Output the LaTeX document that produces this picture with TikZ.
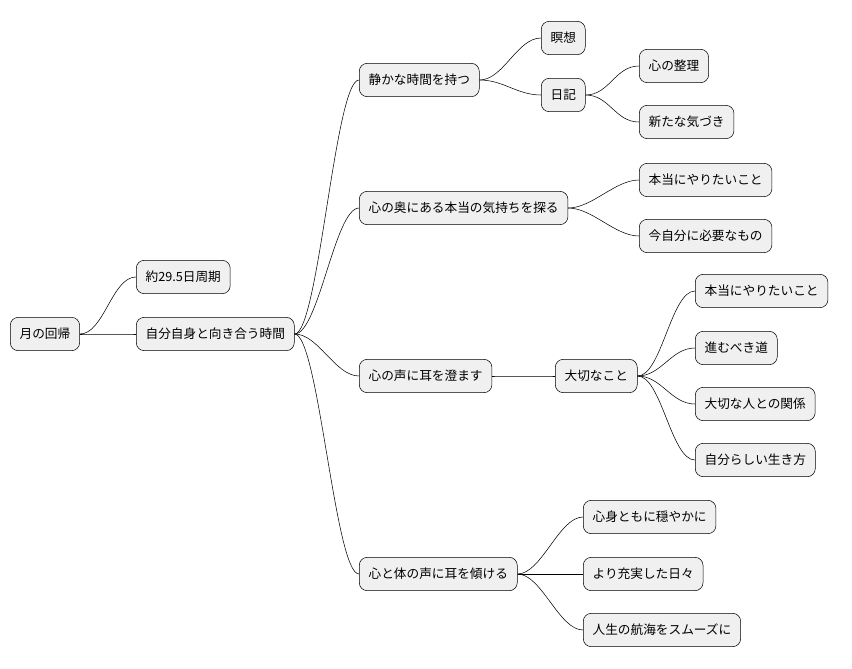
\documentclass[tikz,border=0pt]{standalone}
\usepackage{fontspec}
\setmainfont{Noto Sans CJK JP}
\usetikzlibrary{arrows.meta}

\begin{document}
\begin{tikzpicture}[x=0.75pt, y=-0.75pt, thin,
    box/.style={draw, rounded corners=6pt, fill=black!6, anchor=west,
        minimum height=25pt, inner xsep=7pt, font=\fontsize{9.5}{11}\selectfont},
    curve/.style={to path={(\tikztostart) .. controls +(24,0) and +(-24,0) .. (\tikztotarget)}}]

    \useasboundingbox (0,0) rectangle (852,668);

    % Nodes
    \node (Root) [box] at (10,334) {月の回帰};
    \node (Cycle) [box] at (136,277) {約29.5日周期};
    \node (Self) [box] at (136,334) {自分自身と向き合う時間};

    \node (Quiet) [box] at (359,80) {静かな時間を持つ};
    \node (Medit) [box] at (541,38) {瞑想};
    \node (Diary) [box] at (541,95) {日記};
    \node (Order) [box] at (639,66) {心の整理};
    \node (Notice) [box] at (639,122) {新たな気づき};

    \node (Deep) [box] at (359,208) {心の奥にある本当の気持ちを探る};
    \node (Want) [box] at (639,180) {本当にやりたいこと};
    \node (Need) [box] at (639,236) {今自分に必要なもの};

    \node (Listen) [box] at (359,376) {心の声に耳を澄ます};
    \node (Matter) [box] at (555,376) {大切なこと};
    \node (WantB) [box] at (695,291) {本当にやりたいこと};
    \node (Path) [box] at (695,348) {進むべき道};
    \node (People) [box] at (695,404) {大切な人との関係};
    \node (Life) [box] at (695,460) {自分らしい生き方};

    \node (Body) [box] at (359,574) {心と体の声に耳を傾ける};
    \node (Calm) [box] at (583,517) {心身ともに穏やかに};
    \node (Full) [box] at (583,574) {より充実した日々};
    \node (Voyage) [box] at (583,630) {人生の航海をスムーズに};

    % Connectors
    \draw (Root.east) to[curve] (Cycle.west);
    \draw (Root.east) to[curve] (Self.west);
    \draw (Self.east) to[curve] (Quiet.west);
    \draw (Self.east) to[curve] (Deep.west);
    \draw (Self.east) to[curve] (Listen.west);
    \draw (Self.east) to[curve] (Body.west);

    \draw (Quiet.east) to[curve] (Medit.west);
    \draw (Quiet.east) to[curve] (Diary.west);
    \draw (Diary.east) to[curve] (Order.west);
    \draw (Diary.east) to[curve] (Notice.west);

    \draw (Deep.east) to[curve] (Want.west);
    \draw (Deep.east) to[curve] (Need.west);

    \draw (Listen.east) to[curve] (Matter.west);
    \draw (Matter.east) to[curve] (WantB.west);
    \draw (Matter.east) to[curve] (Path.west);
    \draw (Matter.east) to[curve] (People.west);
    \draw (Matter.east) to[curve] (Life.west);

    \draw (Body.east) to[curve] (Calm.west);
    \draw (Body.east) to[curve] (Full.west);
    \draw (Body.east) to[curve] (Voyage.west);

\end{tikzpicture}
\end{document}
